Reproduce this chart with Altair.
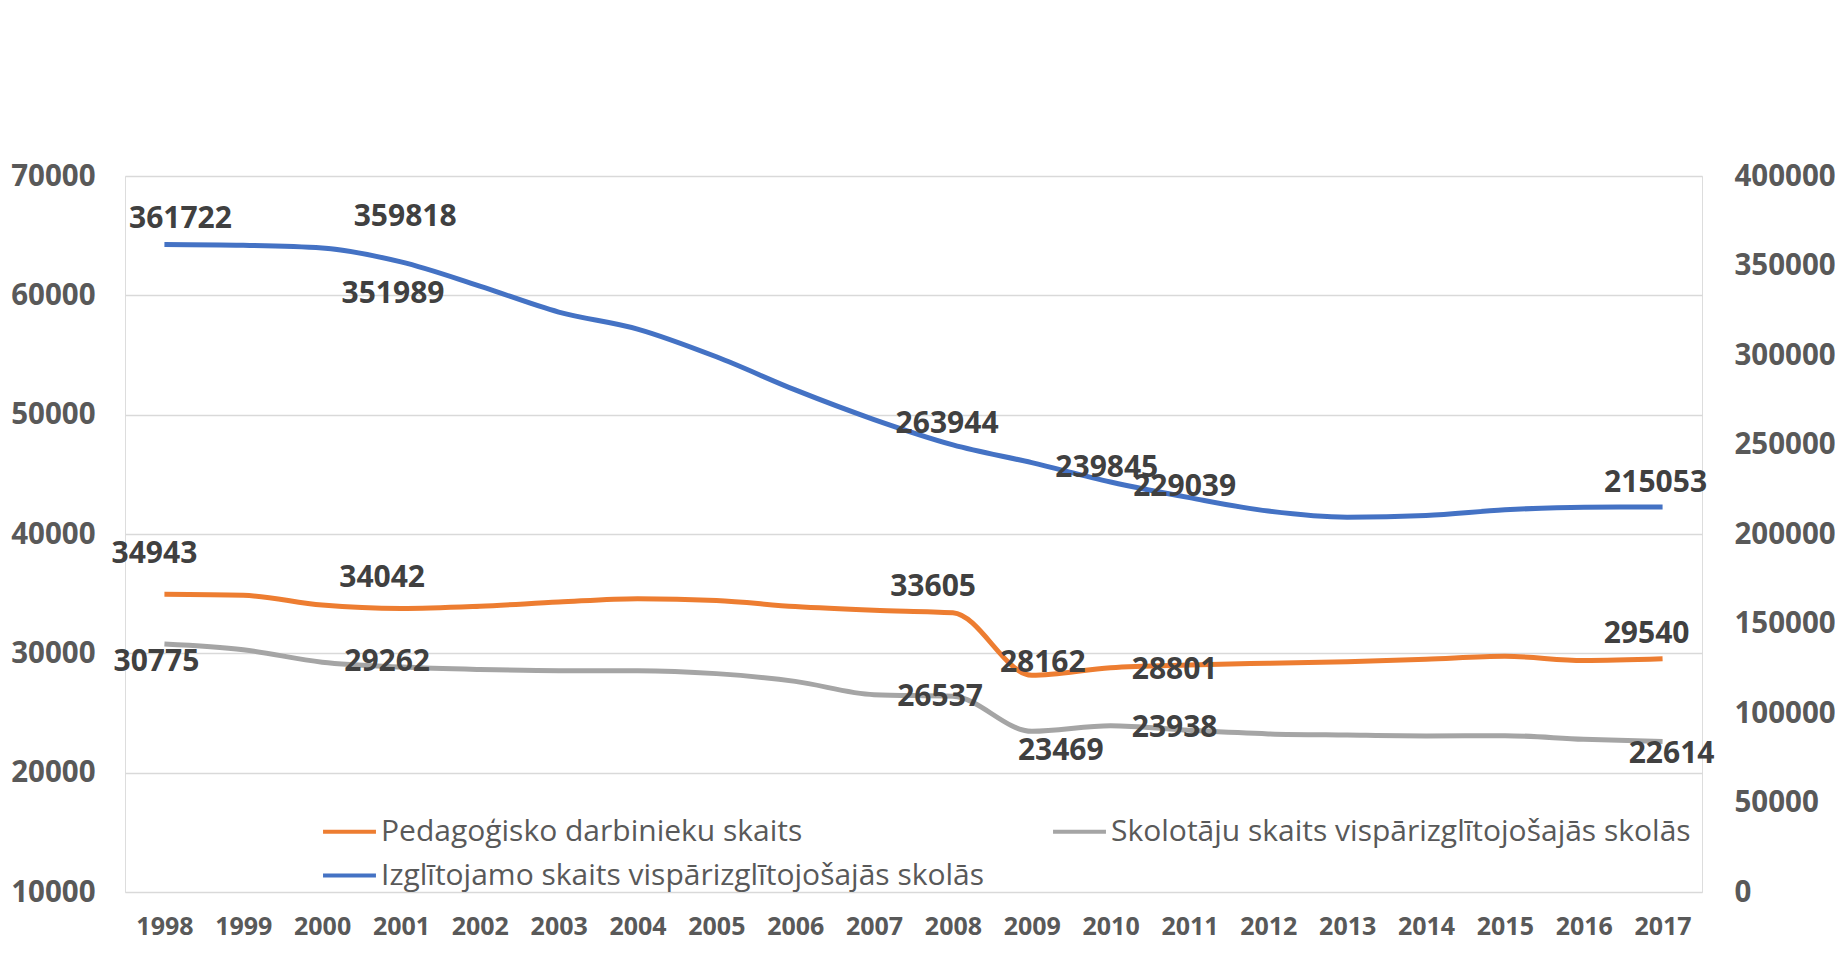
import altair as alt
import pandas as pd

years = list(range(1998, 2018))
pedagogi = [34943, 34860, 34042, 33760, 33950, 34300, 34580, 34430, 33920, 33605,
            33400, 28162, 28801, 29030, 29170, 29300, 29500, 29750, 29400, 29540]
skolotaji = [30775, 30300, 29262, 28850, 28650, 28550, 28550, 28300, 27650, 26537,
             26400, 23469, 23938, 23550, 23250, 23150, 23080, 23100, 22800, 22614]
izglitojamie = [361722, 361300, 359818, 351989, 338500, 324000, 314500, 299000, 280500, 263944,
                249800, 239845, 229039, 220300, 212800, 209400, 210300, 213500, 215000, 215053]

S_PED = "Pedagoģisko darbinieku skaits"
S_SKO = "Skolotāju skaits vispārizglītojošajās skolās"
S_IZG = "Izglītojamo skaits vispārizglītojošajās skolās"
# legend fills column by column: Ped / Izg in column 1, Sko in column 2
series_names = [S_PED, S_IZG, S_SKO]
series_colors = ["#ED7D31", "#4472C4", "#A5A5A5"]

left_ticks = [10000, 20000, 30000, 40000, 50000, 60000, 70000]
right_ticks = [0, 50000, 100000, 150000, 200000, 250000, 300000, 350000, 400000]

rows = []
for name, vals in [(S_PED, pedagogi), (S_SKO, skolotaji), (S_IZG, izglitojamie)]:
    for y, v in zip(years, vals):
        rows.append({"year": str(y), "series": name, "value": v})
df = pd.DataFrame(rows)

# label placement (style): (dx, dy) per labelled year
label_offsets = {
    S_PED: {1998: (-10, -40), 2000: (60, -27), 2007: (59, -23), 2009: (11, -12), 2010: (64, 2), 2017: (-16, -25)},
    S_SKO: {1998: (-8, 18), 2000: (65, 0), 2007: (66, 2), 2009: (29, 20), 2010: (64, 2), 2017: (9, 13)},
    S_IZG: {1998: (16, -26), 2000: (83, -31), 2001: (-8, 32), 2007: (73, 4), 2009: (75, 5), 2010: (74, 5), 2017: (-7, -24)},
}

FONT = "Open Sans"
AX_COLOR = "#595959"

x_enc = alt.X("year:O", scale=alt.Scale(padding=0.5),
              axis=alt.Axis(title=None, labelAngle=0, ticks=False, domain=False, grid=False,
                            labelFont=FONT, labelFontSize=25, labelFontWeight="bold",
                            labelColor=AX_COLOR, labelPadding=22))

y_left = alt.Y("value:Q", scale=alt.Scale(domain=[10000, 70000], nice=False, zero=False),
               axis=alt.Axis(title=None, values=left_ticks, format="d", grid=True,
                             gridColor="#D9D9D9", gridWidth=1.5, ticks=False, domain=False,
                             labelFont=FONT, labelFontSize=29.5, labelFontWeight="bold",
                             labelColor=AX_COLOR, labelPadding=30))
y_right = alt.Y("value:Q", scale=alt.Scale(domain=[0, 400000], nice=False),
                axis=alt.Axis(title=None, orient="right", values=right_ticks, format="d", grid=False,
                              ticks=False, domain=False, labelAlign="left",
                              labelFont=FONT, labelFontSize=29.5, labelFontWeight="bold",
                              labelColor=AX_COLOR, labelPadding=32))

color_enc = alt.Color("series:N", scale=alt.Scale(domain=series_names, range=series_colors),
                      legend=alt.Legend(title=None, orient="none", legendX=196, legendY=627,
                                        columns=2, columnPadding=60, rowPadding=-26,
                                        symbolType="stroke", symbolSize=2800, symbolStrokeWidth=4,
                                        labelFont=FONT, labelFontSize=30, labelColor=AX_COLOR,
                                        labelOffset=3, labelLimit=0))

base = alt.Chart(df)


def label_layers(series, y_enc):
    out = []
    for yr, (dx, dy) in label_offsets[series].items():
        out.append(
            base.transform_filter((alt.datum.series == series) & (alt.datum.year == str(yr)))
            .mark_text(font=FONT, fontSize=30, fontWeight="bold", color="#404040",
                       align="center", baseline="middle", dx=dx, dy=dy)
            .encode(x=x_enc, y=y_enc, text=alt.Text("value:Q", format="d"))
        )
    return out


left_lines = base.transform_filter(alt.FieldOneOfPredicate(field="series", oneOf=[S_PED, S_SKO])).mark_line(
    strokeWidth=5, interpolate="monotone").encode(x=x_enc, y=y_left, color=color_enc,
                                                 detail="series:N")
right_line = base.transform_filter(alt.datum.series == S_IZG).mark_line(
    strokeWidth=5, interpolate="monotone").encode(x=x_enc, y=y_right, color=color_enc)

left = alt.layer(left_lines, *label_layers(S_PED, y_left), *label_layers(S_SKO, y_left))
right = alt.layer(right_line, *label_layers(S_IZG, y_right))

chart = alt.layer(left, right).resolve_scale(y="independent").properties(
    width=1577, height=716,
    autosize=alt.AutoSizeParams(type="none"),
    padding={"left": 117, "top": 168, "right": 133, "bottom": 53},
).configure_view(stroke=None).configure(background="white")

chart.save("out.html", embed_options={"renderer": "svg", "actions": False})
